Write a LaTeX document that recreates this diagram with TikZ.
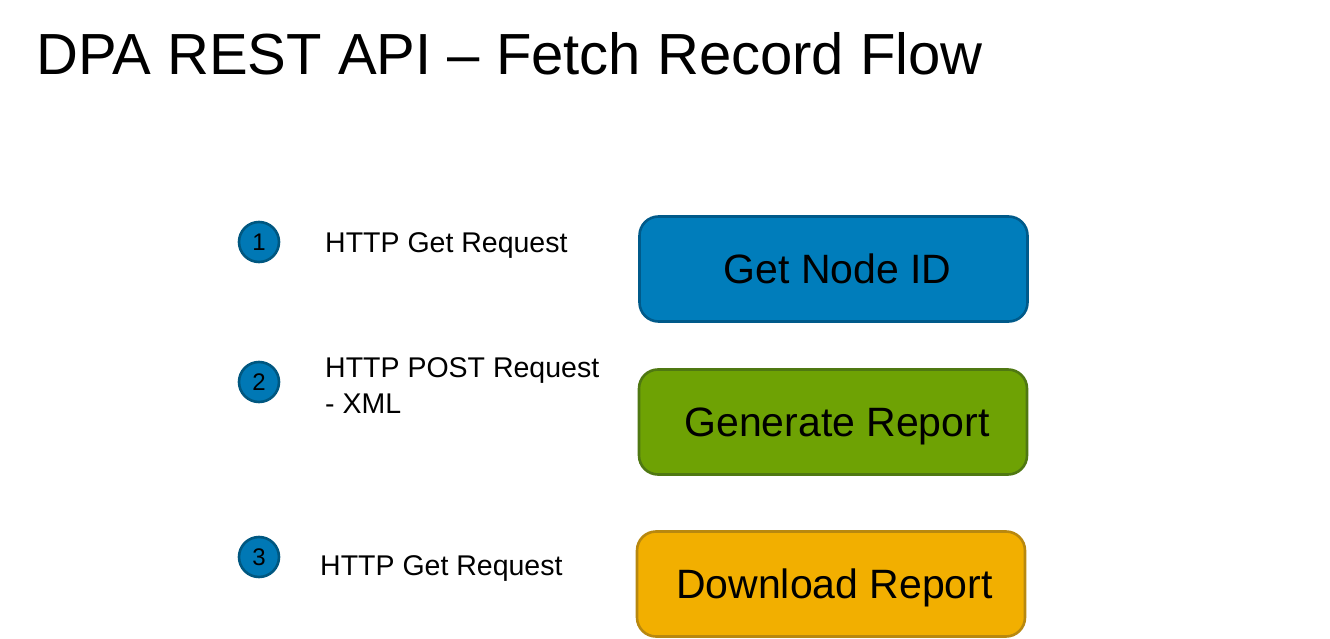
\documentclass[tikz,border=0pt]{standalone}
\usepackage{fontspec}
\setmainfont{Liberation Sans}
\definecolor{boxblue}{HTML}{007DBB}
\definecolor{boxblueline}{HTML}{005A8A}
\definecolor{boxgreen}{HTML}{6EA204}
\definecolor{boxgreenline}{HTML}{4F7812}
\definecolor{boxorange}{HTML}{F2AF00}
\definecolor{boxorangeline}{HTML}{B8880F}
\definecolor{circblue}{HTML}{0078B5}
\definecolor{circline}{HTML}{005780}
\tikzset{
  stepbox/.style={draw, line width=2.6pt, rounded corners=19pt, minimum width=388pt,
    minimum height=105pt, inner sep=0pt, text height=29.4pt, text depth=0pt,
    font=\fontsize{41}{41}\selectfont},
  numcirc/.style={circle, draw=circline, fill=circblue, line width=2.6pt,
    minimum size=40pt, inner sep=0pt, font=\fontsize{24}{24}\selectfont},
  lbl/.style={anchor=base west, inner sep=0pt, font=\fontsize{28.5}{36}\selectfont, align=left},
}
\begin{document}
\begin{tikzpicture}[x=1pt,y=-1pt]
\useasboundingbox (0,0) rectangle (1330,639);
\node[anchor=base west, inner sep=0pt, font=\fontsize{58}{58}\selectfont] (title) at (36,75) {DPA REST API – Fetch Record Flow};

\node[stepbox, fill=boxblue, draw=boxblueline] (b1) at (833.5,269) {\hspace*{8pt}Get Node ID};
\node[stepbox, fill=boxgreen, draw=boxgreenline] (b2) at (833,422) {\hspace*{8pt}Generate Report};
\node[stepbox, fill=boxorange, draw=boxorangeline] (b3) at (831,584) {\hspace*{7pt}Download Report};

\node[numcirc] (c1) at (259,242) {1};
\node[numcirc] (c2) at (259,382) {2};
\node[numcirc] (c3) at (259,557) {3};

\node[lbl] (l1) at (325,252) {HTTP Get Request};
\node[lbl] (l2) at (325,413) {HTTP POST Request\\- XML};
\node[lbl] (l3) at (320,575) {HTTP Get Request};
\end{tikzpicture}
\end{document}
